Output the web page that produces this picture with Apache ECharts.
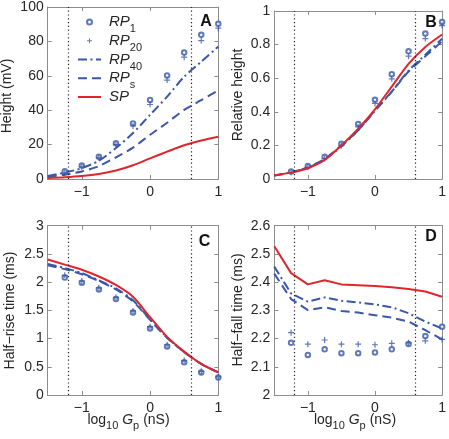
<!DOCTYPE html>
<html><head><meta charset="utf-8">
<script src="https://cdn.jsdelivr.net/npm/echarts@6/dist/echarts.min.js"></script>
<style>html,body{margin:0;padding:0;background:#fff}#c{width:449px;height:439px}</style>
</head><body><div id="c"></div>
<script>
// ---- data ----
const xLine = [-1.5, -1.25, -1, -0.75, -0.5, -0.25, 0, 0.25, 0.5, 0.75, 1];
const xMark = [-1.25, -1, -0.75, -0.5, -0.25, 0, 0.25, 0.5, 0.75, 1];
const xTicks = [-1, 0, 1];
const guideX = [-1.2, 0.6];
const seriesNames = ['RP1', 'RP20', 'RP40', 'RPs', 'SP'];

// Panel A: Height (mV)
const rp1A = [4.5, 7.8, 13, 20.8, 32.3, 46, 60.2, 73.5, 83.8, 90.2];
const rp20A = [3.5, 7.0, 12.3, 20, 30.8, 43.3, 57.5, 70.8, 80.5, 87.7];
const rp40A = [1.8, 3.7, 6.3, 10.6, 18, 26.7, 37.3, 47.9, 59.5, 68.2, 77];
const rpsA = [1.3, 2.5, 4.4, 7.5, 12.6, 18.2, 25.7, 32.7, 40.2, 45.8, 51.5];
const spA = [0.6, 1.0, 1.7, 2.9, 4.9, 8.0, 12.0, 15.9, 19.6, 22.4, 24.6];
// Panel B: Relative height
const rp1B = [0.045, 0.077, 0.132, 0.21, 0.327, 0.471, 0.624, 0.76, 0.866, 0.935];
const rp20B = [0.038, 0.07, 0.122, 0.2, 0.31, 0.45, 0.596, 0.731, 0.836, 0.913];
const rp40B = [0.02, 0.04, 0.068, 0.115, 0.195, 0.29, 0.405, 0.52, 0.645, 0.74, 0.835];
const rpsB = [0.02, 0.04, 0.07, 0.12, 0.2, 0.29, 0.41, 0.52, 0.64, 0.73, 0.82];
const spB = [0.022, 0.038, 0.064, 0.113, 0.2, 0.3, 0.415, 0.55, 0.685, 0.786, 0.86];
// Panel C: Half-rise time (ms)
const rp1C = [2.08, 1.99, 1.87, 1.70, 1.46, 1.18, 0.86, 0.58, 0.40, 0.31];
const rp20C = [2.12, 2.02, 1.90, 1.73, 1.49, 1.21, 0.89, 0.61, 0.42, 0.32];
const rp40C = [2.32, 2.25, 2.16, 2.03, 1.89, 1.68, 1.34, 1.02, 0.76, 0.55, 0.40];
const rpsC = [2.30, 2.23, 2.14, 2.02, 1.87, 1.66, 1.33, 1.01, 0.76, 0.55, 0.40];
const spC = [2.40, 2.31, 2.22, 2.10, 1.95, 1.74, 1.38, 1.03, 0.77, 0.55, 0.40];
// Panel D: Half-fall time (ms)
const rp1D = [2.185, 2.142, 2.162, 2.148, 2.148, 2.151, 2.162, 2.181, 2.209, 2.242];
const rp20D = [2.221, 2.18, 2.195, 2.18, 2.18, 2.178, 2.183, 2.185, 2.192, 2.197];
const rp40D = [2.455, 2.36, 2.331, 2.346, 2.334, 2.328, 2.321, 2.311, 2.29, 2.26, 2.236];
const rpsD = [2.43, 2.34, 2.301, 2.311, 2.298, 2.292, 2.283, 2.274, 2.26, 2.23, 2.197];
const spD = [2.527, 2.432, 2.392, 2.407, 2.392, 2.389, 2.386, 2.382, 2.376, 2.367, 2.348];

const yRanges = [[0, 100, 20], [0, 1, 0.2], [0, 3, 0.5], [2, 2.6, 0.1]];
const yTitles = ['Height (mV)', 'Relative height', 'Half\u2212rise time (ms)', 'Half\u2212fall time (ms)'];
const panelLetters = ['A', 'B', 'C', 'D'];
const smoothPanel = [0.25, 0.25, 0.25, 0];

const panels = [
  [rp1A, rp20A, rp40A, rpsA, spA],
  [rp1B, rp20B, rp40B, rpsB, spB],
  [rp1C, rp20C, rp40C, rpsC, spC],
  [rp1D, rp20D, rp40D, rpsD, spD]
];

// ---- style ----
const FONT = "'Liberation Sans', Arial, sans-serif";
const BLUE = '#3b58a8', RED = '#e0262c', AX = '#8c8c8c', TXT = '#262626';
const PLUS = 'path://M4,0H6V4H10V6H6V10H4V6H0V4H4Z';

const grids = [
  {left: 47.7, top: 6.5, width: 170.6, height: 172.5},
  {left: 274.3, top: 11, width: 169.7, height: 168},
  {left: 47.7, top: 225.7, width: 170.6, height: 169.3},
  {left: 274.3, top: 225.7, width: 169.7, height: 169.3}
];

const fmtX = v => (v < 0 ? '\u2212' + Math.abs(v) : String(v));
const fmtY = v => String(parseFloat(v.toFixed(2)));

const xAxes = [], yAxes = [], series = [];
grids.forEach((g, i) => {
  const base = {gridIndex: i, type: 'value', min: -1.5, max: 1, splitLine: {show: false},
    axisLine: {show: true, onZero: false, lineStyle: {color: AX, width: 1}}};
  xAxes.push(Object.assign({}, base, {position: 'bottom',
    axisTick: {show: true, inside: true, length: 4, customValues: xTicks, lineStyle: {color: AX}},
    axisLabel: {show: true, customValues: xTicks, formatter: fmtX, color: TXT, fontSize: 14, fontFamily: FONT, margin: 6}}));
  xAxes.push(Object.assign({}, base, {position: 'top',
    axisTick: {show: true, inside: true, length: 4, customValues: xTicks, lineStyle: {color: AX}},
    axisLabel: {show: false}}));
  const r = yRanges[i];
  const yb = {gridIndex: i, type: 'value', min: r[0], max: r[1], interval: r[2], splitLine: {show: false},
    axisLine: {show: true, onZero: false, lineStyle: {color: AX, width: 1}}};
  yAxes.push(Object.assign({}, yb, {position: 'left',
    axisTick: {show: true, inside: true, length: 4, lineStyle: {color: AX}},
    axisLabel: {show: true, formatter: fmtY, color: TXT, fontSize: 14, fontFamily: FONT, margin: 4}}));
  yAxes.push(Object.assign({}, yb, {position: 'right',
    axisTick: {show: true, inside: true, length: 4, lineStyle: {color: AX}},
    axisLabel: {show: false}}));

  const d = panels[i];
  const xi = 2 * i, yi = 2 * i;
  const sm = smoothPanel[i];
  series.push({name: seriesNames[0], type: 'scatter', xAxisIndex: xi, yAxisIndex: yi,
    data: xMark.map((x, k) => [x, d[0][k]]), symbol: 'emptyCircle', symbolSize: 4.5,
    itemStyle: {color: BLUE, borderColor: BLUE, borderWidth: 1.2}, z: 3});
  series.push({name: seriesNames[1], type: 'scatter', xAxisIndex: xi, yAxisIndex: yi,
    data: xMark.map((x, k) => [x, d[1][k]]), symbol: PLUS, symbolSize: 6,
    itemStyle: {color: BLUE}, z: 3});
  series.push({name: seriesNames[2], type: 'line', xAxisIndex: xi, yAxisIndex: yi,
    data: xLine.map((x, k) => [x, d[2][k]]), symbol: 'none', showSymbol: false, smooth: sm,
    lineStyle: {color: BLUE, width: 2, type: [9, 3.5, 2, 3.5]}, itemStyle: {color: BLUE, opacity: 0}, z: 2});
  series.push({name: seriesNames[3], type: 'line', xAxisIndex: xi, yAxisIndex: yi,
    data: xLine.map((x, k) => [x, d[3][k]]), symbol: 'none', showSymbol: false, smooth: sm,
    lineStyle: {color: BLUE, width: 2, type: [9, 5]}, itemStyle: {color: BLUE, opacity: 0}, z: 2});
  series.push({name: seriesNames[4], type: 'line', xAxisIndex: xi, yAxisIndex: yi,
    data: xLine.map((x, k) => [x, d[4][k]]), symbol: 'none', showSymbol: false, smooth: sm,
    lineStyle: {color: RED, width: 2}, itemStyle: {color: RED, opacity: 0}, z: 4,
    markLine: {silent: true, symbol: ['none', 'none'], label: {show: false}, animation: false,
      lineStyle: {type: [1.2, 2.6], color: '#222', width: 1.2},
      data: guideX.map(v => ({xAxis: v}))}});
});

const legendLabel = {
  RP1: '{i|RP}{s|1}', RP20: '{i|RP}{s|20}', RP40: '{i|RP}{s|40}', RPs: '{i|RP}{s|s}', SP: '{i|SP}{s| }'
};

const graphics = [];
const yTitlePos = [[7.5, 96], [238, 95], [10, 310.5], [238, 310]];
yTitles.forEach((t, i) => {
  graphics.push({type: 'text', x: yTitlePos[i][0], y: yTitlePos[i][1], rotation: Math.PI / 2,
    style: {text: t, fill: TXT, font: '14px ' + FONT, align: 'center', verticalAlign: 'middle'}});
});
const letterPos = [[206, 22], [431, 23], [204.5, 241.5], [431, 237]];
panelLetters.forEach((t, i) => {
  graphics.push({type: 'text', x: letterPos[i][0], y: letterPos[i][1],
    style: {text: t, fill: '#111', font: 'bold 16px ' + FONT, align: 'center', verticalAlign: 'middle'}});
});
const xTitleRich = {
  n: {fontFamily: FONT, fontSize: 14, lineHeight: 16, fill: TXT, color: TXT},
  i: {fontFamily: FONT, fontSize: 14, fontStyle: 'italic', lineHeight: 16, fill: TXT, color: TXT},
  s: {fontFamily: FONT, fontSize: 11, lineHeight: 11, padding: [12, 0, 0, 0], fill: TXT, color: TXT}
};
[[128.5, 420], [355, 420]].forEach(p => {
  graphics.push({type: 'text', x: p[0], y: p[1],
    style: {text: '{n|log}{s|10}{n| }{i|G}{s|p}{n| (nS)}', rich: xTitleRich, align: 'center', verticalAlign: 'middle'}});
});

const option = {
  animation: false,
  backgroundColor: '#fff',
  grid: grids.map(g => Object.assign({containLabel: false, show: false}, g)),
  xAxis: xAxes,
  yAxis: yAxes,
  legend: {
    data: [
      {name: 'RP1'},
      {name: 'RP20'},
      {name: 'RP40', itemStyle: {opacity: 0}},
      {name: 'RPs', itemStyle: {opacity: 0}},
      {name: 'SP', itemStyle: {opacity: 0}}
    ],
    left: 77, top: 9.5, padding: 0, orient: 'vertical',
    itemWidth: 23, itemHeight: 5, itemGap: -6.25, selectedMode: false,
    formatter: n => legendLabel[n],
    textStyle: {color: TXT, rich: {
      i: {fontFamily: FONT, fontSize: 15, fontStyle: 'italic', lineHeight: 16, color: TXT, padding: [0, 0, 0, 3]},
      s: {fontFamily: FONT, fontSize: 11, lineHeight: 11, color: TXT, padding: [14, 0, 0, 0]}
    }}
  },
  series: series,
  graphic: graphics
};
const chart = echarts.init(document.getElementById('c'), null, {renderer: 'canvas'});
chart.setOption(option);
</script></body></html>
